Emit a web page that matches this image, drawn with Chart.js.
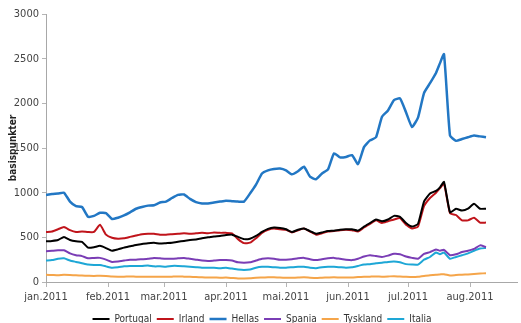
<!DOCTYPE html>
<html>
<head>
<meta charset="utf-8">
<script src="https://cdn.jsdelivr.net/npm/chart.js@4/dist/chart.umd.min.js"></script>
<style>
  html, body { margin: 0; padding: 0; background: #fff; }
  #wrap { width: 521px; height: 323px; position: relative; }
</style>
</head>
<body>
<div id="wrap"><canvas id="myChart"></canvas></div>
<script>
// day number counted from 1 January 2011
const days = [0, 3, 6, 9, 12, 15, 18, 21, 24, 27, 30, 33, 36, 39, 42, 45, 48, 51, 54, 57,
  60, 63, 66, 69, 72, 75, 78, 81, 84, 87, 90, 93, 96, 99, 102, 105, 108, 111, 114, 117,
  120, 123, 126, 129, 132, 135, 138, 141, 144, 147, 150, 153, 156, 159, 162, 165, 168, 171, 174, 177,
  180, 183, 186, 189, 192, 195, 197, 199, 202, 205, 208, 211, 214, 217, 220];

const monthDays = [0, 31, 59, 90, 120, 151, 181, 212];
const monthLabels = ["jan.2011", "feb.2011", "mar.2011", "apr.2011", "mai.2011", "jun.2011", "jul.2011", "aug.2011"];

const portugal = [455, 460, 470, 505, 470, 455, 450, 385, 390, 405, 380, 350, 365, 385, 400, 415, 425, 435, 440, 430,
  435, 440, 450, 460, 470, 475, 490, 500, 510, 515, 525, 530, 505, 480, 485, 515, 560, 595, 610, 605,
  590, 560, 585, 600, 570, 540, 555, 570, 575, 585, 590, 590, 575, 620, 660, 700, 680, 700, 740, 730,
  660, 620, 650, 900, 990, 1020, 1060, 1120, 780, 820, 800, 820, 875, 820, 820];

const irland = [560, 565, 590, 615, 580, 560, 565, 560, 560, 640, 530, 495, 485, 490, 505, 520, 535, 540, 540, 530,
  530, 535, 540, 545, 540, 545, 550, 545, 555, 550, 550, 545, 480, 435, 440, 490, 550, 585, 600, 590,
  585, 555, 580, 600, 565, 530, 545, 565, 570, 580, 585, 580, 565, 610, 650, 690, 660, 680, 700, 715,
  640, 600, 620, 850, 940, 1000, 1050, 1100, 770, 750, 690, 690, 720, 665, 665];

const hellas = [975, 985, 990, 1000, 900, 850, 840, 730, 740, 775, 770, 705, 720, 745, 780, 820, 840, 855, 860, 890,
  900, 940, 975, 980, 930, 895, 880, 880, 890, 900, 910, 905, 900, 900, 990, 1090, 1215, 1250, 1265, 1270,
  1250, 1205, 1240, 1290, 1180, 1150, 1215, 1260, 1440, 1395, 1400, 1420, 1320, 1510, 1585, 1620, 1850, 1920, 2035, 2055,
  1900, 1735, 1840, 2115, 2225, 2340, 2450, 2550, 1640, 1580, 1600, 1620, 1640, 1630, 1620];

const spania = [345, 350, 355, 355, 320, 300, 290, 265, 270, 270, 250, 225, 230, 240, 250, 250, 255, 260, 270, 265,
  260, 260, 265, 270, 260, 250, 240, 235, 240, 245, 245, 240, 220, 215, 220, 240, 260, 265, 260, 250,
  250, 255, 265, 270, 255, 245, 255, 265, 270, 260, 250, 245, 260, 285, 300, 290, 280, 295, 315, 310,
  285, 270, 260, 315, 335, 365, 350, 360, 300, 310, 335, 350, 370, 410, 390];

const tyskland = [80, 78, 75, 80, 78, 75, 72, 70, 68, 70, 68, 62, 60, 60, 62, 60, 60, 60, 58, 60,
  58, 60, 62, 60, 58, 55, 52, 50, 50, 48, 50, 45, 40, 40, 42, 48, 50, 52, 52, 50,
  48, 48, 50, 52, 48, 45, 48, 50, 52, 50, 50, 50, 55, 58, 60, 62, 60, 62, 65, 62,
  58, 55, 58, 68, 75, 82, 85, 88, 72, 78, 82, 85, 90, 95, 98];

const italia = [240, 245, 260, 265, 240, 225, 210, 195, 190, 190, 175, 160, 165, 175, 180, 180, 180, 185, 175, 175,
  170, 180, 180, 175, 170, 165, 160, 160, 160, 155, 160, 150, 140, 135, 140, 160, 170, 170, 165, 160,
  160, 165, 170, 170, 160, 155, 165, 170, 170, 165, 160, 165, 180, 195, 200, 210, 215, 225, 230, 220,
  200, 195, 195, 250, 280, 330, 310, 330, 260, 280, 300, 320, 350, 375, 380];

const seriesNames = ["Portugal", "Irland", "Hellas", "Spania", "Tyskland", "Italia"];
const seriesValues = [portugal, irland, hellas, spania, tyskland, italia];
const lineColors = ["#000000", "#c0141b", "#2277c4", "#7a3db5", "#f5a54a", "#1ea7d6"];

const font = "'Liberation Sans Narrow', 'DejaVu Sans Condensed', 'Liberation Sans', sans-serif";

const datasets = seriesNames.map((name, i) => ({
  label: name,
  data: days.map((d, j) => ({ x: d, y: seriesValues[i][j] })),
  borderColor: lineColors[i],
  backgroundColor: lineColors[i],
  borderWidth: i === 2 ? 2.5 : 2,
  pointRadius: 0,
  tension: 0.15,
  borderJoinStyle: "round"
}));

new Chart("myChart", {
  type: "line",
  data: { datasets: datasets },
  options: {
    responsive: true,
    maintainAspectRatio: false,
    animation: false,
    layout: { padding: { top: 14, right: 4, left: 7, bottom: -11 } },
    scales: {
      x: {
        type: "linear",
        min: 0,
        max: 235.5,
        afterBuildTicks: (scale) => {
          scale.ticks = monthDays.map(v => ({ value: v }));
        },
        afterFit: (scale) => { scale.height = 27; },
        ticks: {
          autoSkip: false,
          maxRotation: 0,
          padding: 4,
          color: "#444",
          font: { family: font, size: 11 },
          callback: (v) => monthLabels[monthDays.indexOf(v)]
        },
        grid: { drawOnChartArea: false, tickLength: 5, color: "#b5b5b5" },
        border: { color: "#a8a8a8" }
      },
      y: {
        min: 0,
        max: 3000,
        ticks: {
          stepSize: 500,
          padding: 3,
          color: "#444",
          font: { family: font, size: 11 },
          callback: (v) => String(v)
        },
        afterFit: (scale) => { scale.width = 39; },
        grid: { drawOnChartArea: false, tickLength: 4, color: "#b5b5b5" },
        border: { color: "#a8a8a8" },
        title: {
          display: true,
          text: "basispunkter",
          color: "#222",
          padding: 0,
          font: { family: font, size: 10, weight: "bold" }
        }
      }
    },
    plugins: {
      tooltip: { enabled: false },
      legend: {
        position: "bottom",
        labels: {
          usePointStyle: true,
          pointStyle: "line",
          pointStyleWidth: 17,
          boxHeight: 10,
          padding: 5,
          color: "#333",
          font: { family: font, size: 10 }
        }
      }
    }
  }
});
</script>
</body>
</html>
